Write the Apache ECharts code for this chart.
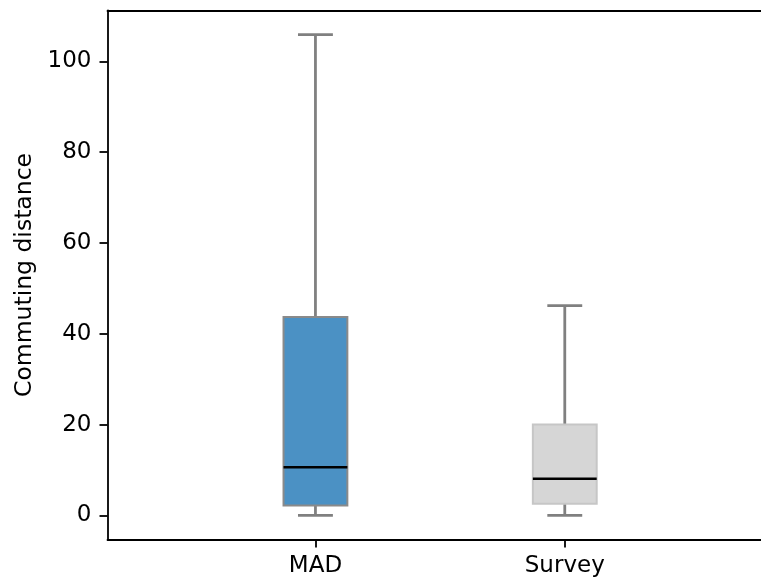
<!DOCTYPE html>
<html>
<head>
<meta charset="utf-8">
<script src="https://cdn.jsdelivr.net/npm/echarts@6/dist/echarts.min.js"></script>
<style>
html,body{margin:0;padding:0;background:#fff;}
#chart{width:761px;height:579px;}
</style>
</head>
<body>
<div id="chart"></div>
<script>
// ---- data ----
const categories = ['MAD', 'Survey'];
const whiskerLow = [0, 0];
const q1 = [2.2, 2.6];
const median = [10.6, 8.1];
const q3 = [43.7, 20.0];
const whiskerHigh = [105.9, 46.2];
const yTicks = [0, 20, 40, 60, 80, 100];
const yTitle = 'Commuting distance';

// ---- styling ----
const FONT = 'DejaVu Sans';
const boxFill = ['#4b91c4', '#d6d6d6'];
const boxEdge = ['#8a8a8a', '#c6c6c6'];
const whiskerColor = '#808080';
const BOX_HALF = 0.128;   // in category units
const CAP_HALF = 0.07;

const seriesData = categories.map((c, i) => [i, whiskerLow[i], q1[i], median[i], q3[i], whiskerHigh[i]]);

const chart = echarts.init(document.getElementById('chart'), null, {renderer: 'canvas'});

function renderItem(params, api) {
  const i = api.value(0);
  const lo = api.coord([i, api.value(1)]);
  const b1 = api.coord([i, api.value(2)]);
  const md = api.coord([i, api.value(3)]);
  const b3 = api.coord([i, api.value(4)]);
  const hi = api.coord([i, api.value(5)]);
  const xl = api.coord([i - BOX_HALF, 0])[0];
  const xr = api.coord([i + BOX_HALF, 0])[0];
  const cl = api.coord([i - CAP_HALF, 0])[0];
  const cr = api.coord([i + CAP_HALF, 0])[0];
  const xc = lo[0];
  const wStyle = {stroke: whiskerColor, lineWidth: 2.8};
  return {
    type: 'group',
    children: [
      {type: 'line', shape: {x1: xc, y1: b1[1], x2: xc, y2: lo[1]}, style: wStyle},
      {type: 'line', shape: {x1: xc, y1: b3[1], x2: xc, y2: hi[1]}, style: wStyle},
      {type: 'line', shape: {x1: cl, y1: lo[1], x2: cr, y2: lo[1]}, style: wStyle},
      {type: 'line', shape: {x1: cl, y1: hi[1], x2: cr, y2: hi[1]}, style: wStyle},
      {type: 'rect', shape: {x: xl, y: b3[1], width: xr - xl, height: b1[1] - b3[1]},
        style: {fill: boxFill[params.dataIndex], stroke: boxEdge[params.dataIndex], lineWidth: 2}},
      {type: 'line', shape: {x1: xl, y1: md[1], x2: xr, y2: md[1]}, style: {stroke: '#000', lineWidth: 2.5}}
    ]
  };
}

const option = {
  animation: false,
  backgroundColor: '#fff',
  grid: {left: 107.5, right: 0, top: 10.5, bottom: 39.5, containLabel: false},
  xAxis: [{
    type: 'value',
    min: -0.834, max: 1.787,
    position: 'bottom',
    splitLine: {show: false},
    axisLine: {show: true, onZero: false, lineStyle: {color: '#000', width: 1.8}},
    axisTick: {show: true, length: 8, lineStyle: {color: '#000', width: 1.8}, customValues: [0, 1]},
    axisLabel: {
      show: true, margin: 15, color: '#000', fontFamily: FONT, fontSize: 23,
      customValues: [0, 1],
      formatter: v => categories[Math.round(v)] || ''
    }
  }, {
    type: 'value',
    min: -0.834, max: 1.787,
    position: 'top',
    splitLine: {show: false},
    axisLine: {show: true, onZero: false, lineStyle: {color: '#000', width: 1.8}},
    axisTick: {show: false},
    axisLabel: {show: false}
  }],
  yAxis: {
    type: 'value',
    min: -5.3, max: 111.2,
    position: 'left',
    splitLine: {show: false},
    axisLine: {show: true, onZero: false, lineStyle: {color: '#000', width: 1.8}},
    axisTick: {show: true, length: 8, lineStyle: {color: '#000', width: 1.8}, customValues: yTicks},
    axisLabel: {
      show: true, margin: 16, color: '#000', fontFamily: FONT, fontSize: 23,
      customValues: yTicks
    },
    name: yTitle,
    nameLocation: 'middle',
    nameRotate: 90,
    nameGap: 66,
    nameTextStyle: {color: '#000', fontFamily: FONT, fontSize: 23.5}
  },
  series: [{
    type: 'custom',
    renderItem: renderItem,
    xAxisIndex: 0,
    encode: {x: 0, y: [1, 2, 3, 4, 5]},
    data: seriesData,
    clip: false
  }]
};
chart.setOption(option);
</script>
</body>
</html>
